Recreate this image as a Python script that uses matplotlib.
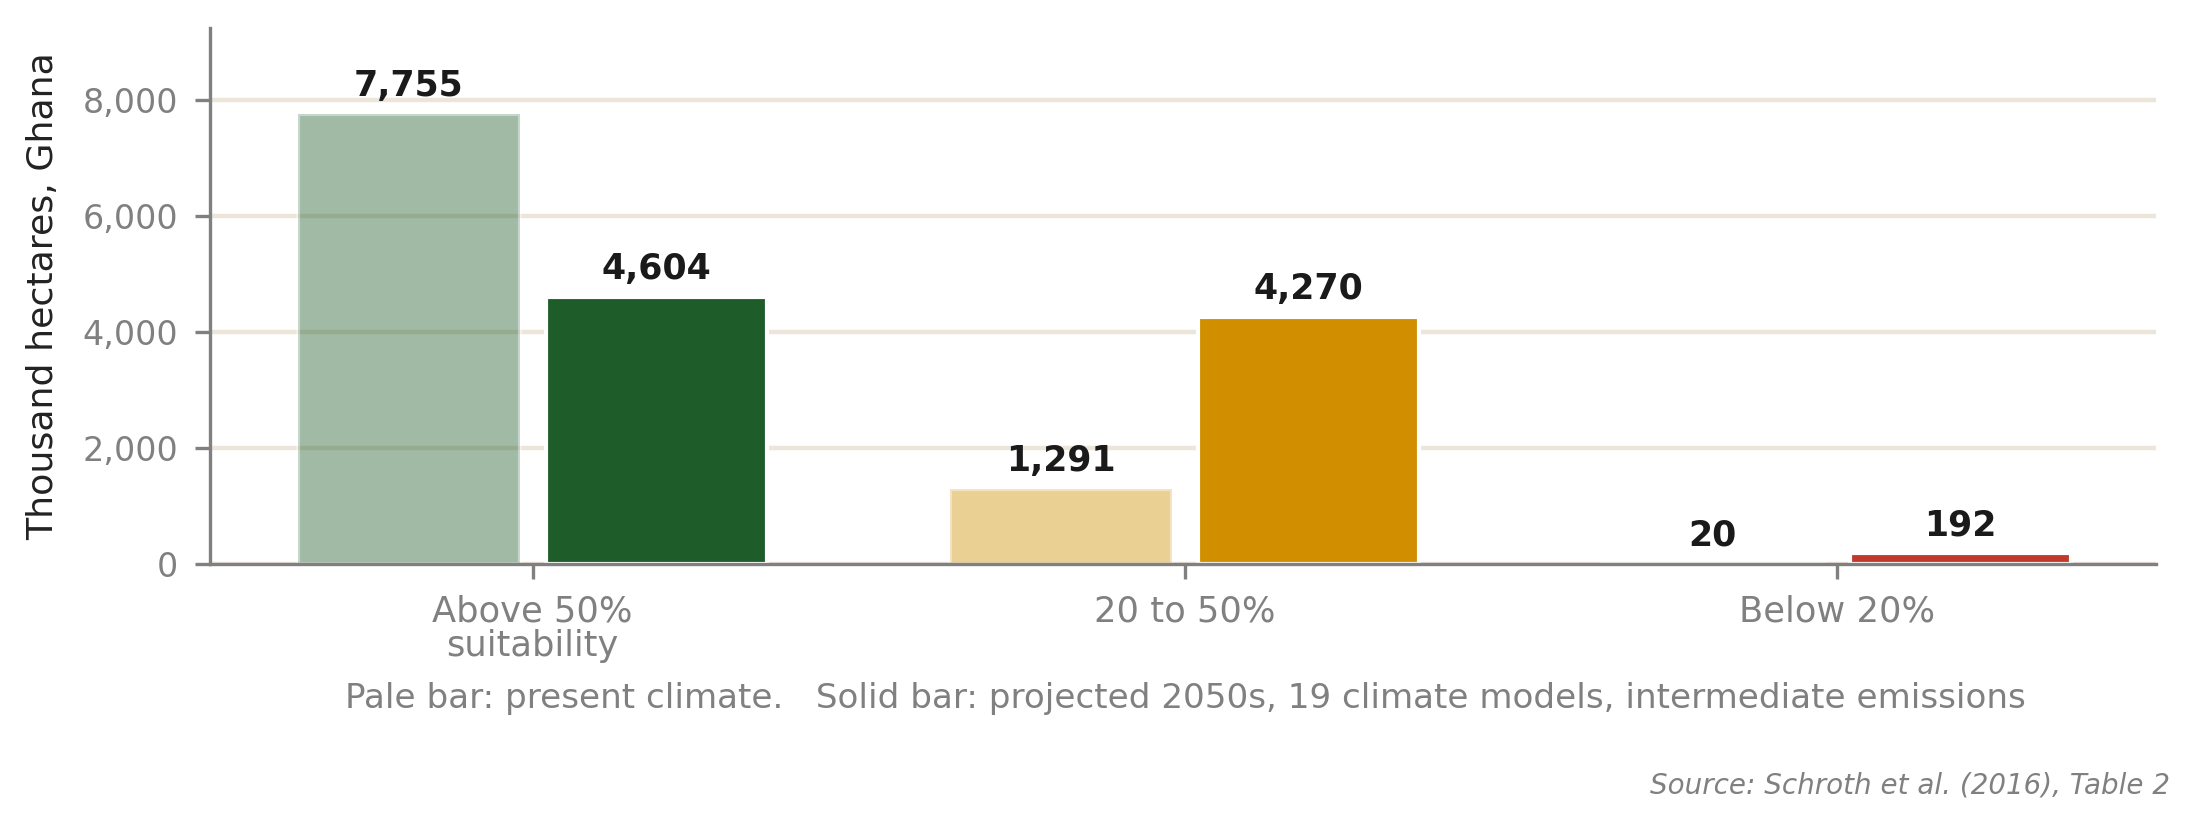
import matplotlib
matplotlib.use("Agg")
import matplotlib.pyplot as plt
import numpy as np

# data (thousand hectares, Ghana)
categories = ["Above 50%\nsuitability", "20 to 50%", "Below 20%"]
present = [7755, 1291, 20]
future = [4604, 4270, 192]
solid_colors = ["#1e5c2a", "#d18f00", "#c0392b"]

fig = plt.figure(figsize=(10.995, 4.15), dpi=200)
ax = fig.add_axes([0.0955, 0.32, 0.885, 0.646])

x = np.arange(len(categories))
width = 0.34
off = 0.19

# pale bars = present climate, solid bars = 2050s projection
ax.bar(x - off, present, width, color=solid_colors, alpha=0.42,
       edgecolor="white", linewidth=1.5, zorder=2)
ax.bar(x + off, future, width, color=solid_colors,
       edgecolor="white", linewidth=1.5, zorder=2)

# value labels
for xi, v in zip(x - off, present):
    ax.annotate(f"{v:,}", (xi, v), xytext=(0, 4), textcoords="offset points",
                ha="center", va="bottom", fontsize=12.5, fontweight="bold", color="#1a1a1a")
for xi, v in zip(x + off, future):
    ax.annotate(f"{v:,}", (xi, v), xytext=(0, 4), textcoords="offset points",
                ha="center", va="bottom", fontsize=12.5, fontweight="bold", color="#1a1a1a")

ax.set_xlim(-0.495, 2.49)
ax.set_ylim(0, 9240)
ax.set_yticks([0, 2000, 4000, 6000, 8000])
ax.yaxis.set_major_formatter(matplotlib.ticker.FuncFormatter(lambda v, p: f"{v:,.0f}"))
ax.set_xticks(x)
ax.set_xticklabels(categories)

ax.grid(axis="y", color="#ede5da", linewidth=1.6, zorder=0)
ax.set_axisbelow(True)

ax.spines["right"].set_visible(False)
ax.spines["top"].set_visible(False)
for s in ["left", "bottom"]:
    ax.spines[s].set_color("#808080")
    ax.spines[s].set_linewidth(1.2)
    ax.spines[s].set_zorder(3)
ax.tick_params(colors="#808080", labelsize=12, length=5.5, width=1.2, pad=6)
ax.tick_params(axis="x", labelsize=12.7, pad=5.5)
for lbl in ax.get_xticklabels():
    lbl.set_linespacing(1.0)

ax.set_ylabel("Thousand hectares, Ghana", fontsize=13.1, color="#222222", labelpad=8)

fig.text(0.539, 0.159, "Pale bar: present climate.   Solid bar: projected 2050s, 19 climate models, intermediate emissions",
         ha="center", va="center", fontsize=12.3, color="#808080")
fig.text(0.987, 0.054, "Source: Schroth et al. (2016), Table 2", ha="right", va="center",
         fontsize=10, style="italic", color="#808080")

fig.savefig("out.png", dpi=200)
